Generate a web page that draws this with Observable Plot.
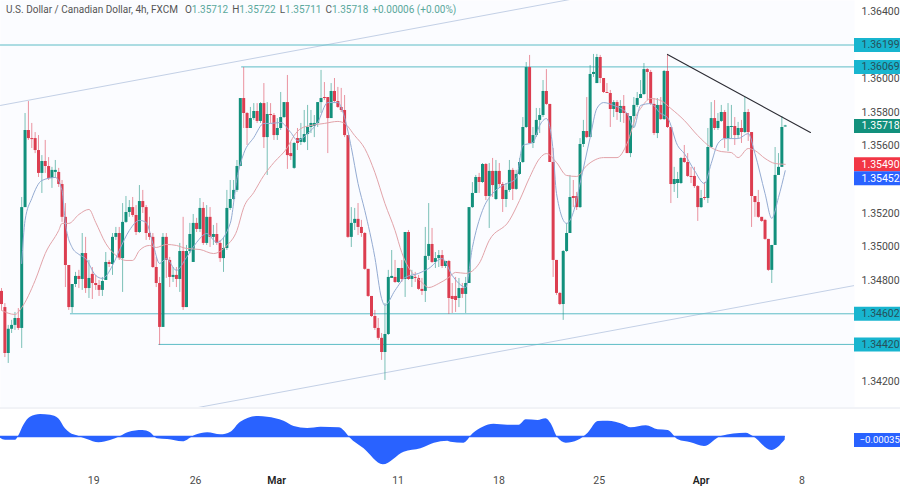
<!DOCTYPE html>
<html>
<head>
<meta charset="utf-8">
<script src="https://cdn.jsdelivr.net/npm/d3@7"></script>
<script src="https://cdn.jsdelivr.net/npm/@observablehq/plot@0.6"></script>
<style>
html,body{margin:0;padding:0;background:#fff;width:900px;height:486px;overflow:hidden}
#wrap{position:relative;width:900px;height:486px;font-family:Roboto,sans-serif}
#wrap svg{display:block;position:absolute;left:0}
#legend{position:absolute;left:6px;top:2px;font-size:10px;line-height:15px;color:#555;white-space:nowrap;z-index:2}
#legend b{font-weight:400;color:#5aa89c}
#legend span{margin-left:4px}
#legend span:first-child{margin-left:7px}
</style>
</head>
<body>
<div id="wrap"><div id="legend">U.S. Dollar / Canadian Dollar, 4h, FXCM<span>O<b>1.35712</b></span><span>H<b>1.35722</b></span><span>L<b>1.35711</b></span><span>C<b>1.35718</b></span><span><b>+0.00006 (+0.00%)</b></span></div></div>
<script>
const opens=[1.34735,1.34639,1.34366,1.34510,1.34533,1.34574,1.34515,1.35233,1.35691,1.35643,
1.35643,1.35572,1.35436,1.35507,1.35477,1.35406,1.35442,1.35442,1.35370,1.35175,
1.34889,1.34639,1.34776,1.34824,1.34806,1.34960,1.34752,1.34836,1.34782,1.34770,
1.34741,1.34800,1.34907,1.34895,1.35056,1.35079,1.34930,1.35145,1.35204,1.35233,
1.35186,1.35085,1.35269,1.35233,1.35079,1.35056,1.34877,1.34782,1.34521,1.35056,
1.34919,1.34818,1.34830,1.34806,1.34972,1.34639,1.34972,1.34907,1.35139,1.35103,
1.35228,1.35020,1.35175,1.35056,1.35073,1.35020,1.34930,1.34990,1.35228,1.35281,
1.35335,1.35477,1.35881,1.35792,1.35703,1.35762,1.35804,1.35745,1.35851,1.35649,
1.35786,1.35780,1.35661,1.35703,1.35768,1.35857,1.35554,1.35466,1.35643,1.35620,
1.35620,1.35667,1.35709,1.35715,1.35733,1.35857,1.35887,1.35887,1.35762,1.35923,
1.35863,1.35828,1.35810,1.35661,1.35056,1.35139,1.35163,1.35115,1.35079,1.34866,
1.34705,1.34586,1.34515,1.34456,1.34372,1.34479,1.34812,1.34818,1.34788,1.34871,
1.34806,1.35085,1.34806,1.34818,1.34812,1.34747,1.34735,1.34943,1.35014,1.34907,
1.34930,1.34948,1.34883,1.34913,1.34705,1.34705,1.34693,1.34752,1.34717,1.34782,
1.35233,1.35317,1.35412,1.35382,1.35489,1.35299,1.35448,1.35281,1.35448,1.35370,
1.35281,1.35335,1.35454,1.35341,1.35430,1.35501,1.35709,1.36065,1.35614,1.35661,
1.35751,1.35780,1.35923,1.35846,1.35501,1.34919,1.34723,1.34657,1.34972,1.35079,
1.35299,1.35299,1.35233,1.35608,1.35685,1.35649,1.36024,1.35970,1.36125,1.36000,
1.35917,1.35911,1.35816,1.35857,1.35792,1.35834,1.35792,1.35554,1.35774,1.35840,
1.35881,1.35905,1.36053,1.36036,1.35846,1.35673,1.35840,1.35756,1.36042,1.35709,
1.35370,1.35376,1.35376,1.35525,1.35501,1.35418,1.35418,1.35358,1.35233,1.35293,
1.35287,1.35590,1.35762,1.35703,1.35745,1.35798,1.35643,1.35709,1.35715,1.35661,
1.35703,1.35679,1.35798,1.35679,1.35299,1.35263,1.35175,1.35157,1.35044,1.34860,
1.35008,1.35424,1.35472,1.35712];
const closes=[1.34657,1.34366,1.34510,1.34533,1.34574,1.34515,1.35233,1.35691,1.35643,1.35637,
1.35572,1.35436,1.35507,1.35477,1.35406,1.35454,1.35454,1.35370,1.35175,1.34889,
1.34639,1.34776,1.34824,1.34806,1.34960,1.34752,1.34812,1.34782,1.34770,1.34741,
1.34794,1.34907,1.34895,1.35056,1.35079,1.34930,1.35145,1.35204,1.35233,1.35186,
1.35085,1.35269,1.35233,1.35079,1.35056,1.34877,1.34782,1.34521,1.35056,1.34919,
1.34818,1.34830,1.34806,1.34972,1.34639,1.34972,1.35073,1.35139,1.35103,1.35228,
1.35020,1.35175,1.35056,1.35073,1.35020,1.34930,1.34990,1.35228,1.35281,1.35335,
1.35477,1.35881,1.35792,1.35703,1.35762,1.35804,1.35745,1.35851,1.35649,1.35786,
1.35780,1.35661,1.35703,1.35768,1.35857,1.35542,1.35536,1.35614,1.35614,1.35643,
1.35667,1.35709,1.35733,1.35733,1.35857,1.35881,1.35881,1.35762,1.35923,1.35863,
1.35828,1.35810,1.35661,1.35056,1.35139,1.35163,1.35115,1.35079,1.34866,1.34705,
1.34586,1.34515,1.34456,1.34372,1.34479,1.34818,1.34824,1.34788,1.34871,1.34806,
1.35085,1.34806,1.34824,1.34812,1.34747,1.34735,1.34943,1.35014,1.34907,1.34930,
1.34948,1.34883,1.34913,1.34693,1.34687,1.34681,1.34752,1.34717,1.34782,1.35233,
1.35317,1.35412,1.35382,1.35489,1.35299,1.35448,1.35364,1.35448,1.35370,1.35281,
1.35335,1.35454,1.35341,1.35430,1.35501,1.35709,1.36065,1.35614,1.35661,1.35751,
1.35780,1.35923,1.35846,1.35501,1.34919,1.34723,1.34657,1.34972,1.35079,1.35293,
1.35287,1.35233,1.35608,1.35685,1.35649,1.36024,1.36036,1.36125,1.36000,1.35917,
1.35911,1.35816,1.35857,1.35798,1.35834,1.35792,1.35554,1.35774,1.35840,1.35881,
1.35905,1.36053,1.36036,1.35846,1.35673,1.35840,1.35756,1.36042,1.35709,1.35370,
1.35400,1.35400,1.35525,1.35501,1.35418,1.35412,1.35358,1.35233,1.35287,1.35287,
1.35590,1.35762,1.35703,1.35745,1.35798,1.35643,1.35715,1.35715,1.35661,1.35703,
1.35679,1.35798,1.35679,1.35299,1.35263,1.35175,1.35151,1.35044,1.34860,1.35008,
1.35424,1.35472,1.35709,1.35718];
const highs=[1.34752,1.34663,1.34533,1.34563,1.34610,1.34633,1.35293,1.35792,1.35863,1.35733,
1.35679,1.35661,1.35542,1.35632,1.35530,1.35472,1.35513,1.35466,1.35394,1.35257,
1.34889,1.34776,1.34848,1.34860,1.35079,1.35056,1.34919,1.34877,1.34830,1.34800,
1.34818,1.34966,1.34919,1.35079,1.35115,1.35115,1.35257,1.35299,1.35275,1.35293,
1.35245,1.35364,1.35335,1.35245,1.35175,1.35079,1.34937,1.34818,1.35079,1.35079,
1.34937,1.34877,1.34877,1.35020,1.35175,1.35008,1.35139,1.35192,1.35169,1.35287,
1.35263,1.35245,1.35233,1.35127,1.35139,1.35038,1.35056,1.35335,1.35394,1.35394,
1.35513,1.35881,1.36065,1.35798,1.35828,1.35851,1.35851,1.35857,1.35970,1.35857,
1.35851,1.35792,1.35762,1.35917,1.35857,1.36018,1.35620,1.35620,1.35703,1.35733,
1.35810,1.35840,1.35810,1.35780,1.35857,1.36048,1.35976,1.35887,1.35970,1.36000,
1.35947,1.35941,1.35899,1.35661,1.35233,1.35228,1.35257,1.35157,1.35085,1.34866,
1.34705,1.34622,1.34574,1.34485,1.34663,1.34860,1.34978,1.34919,1.34871,1.34919,
1.35085,1.35097,1.34860,1.34848,1.34830,1.34812,1.35115,1.35257,1.35109,1.34966,
1.34978,1.34978,1.34913,1.34919,1.34782,1.34818,1.34812,1.34782,1.34818,1.35233,
1.35382,1.35424,1.35436,1.35495,1.35495,1.35495,1.35525,1.35513,1.35495,1.35382,
1.35376,1.35513,1.35466,1.35454,1.35525,1.35768,1.36095,1.36137,1.35709,1.35822,
1.35822,1.35988,1.36053,1.35846,1.35584,1.34919,1.34729,1.34978,1.35139,1.35424,
1.35394,1.35323,1.35643,1.35751,1.35887,1.36077,1.36143,1.36143,1.36137,1.36000,
1.35970,1.35929,1.35869,1.35869,1.35869,1.35899,1.35792,1.35774,1.35887,1.35917,
1.35988,1.36089,1.36059,1.36048,1.35881,1.35881,1.35887,1.36048,1.36143,1.35709,
1.35472,1.35442,1.35530,1.35602,1.35554,1.35472,1.35472,1.35364,1.35335,1.35382,
1.35703,1.35857,1.35869,1.35792,1.35840,1.35810,1.35851,1.35840,1.35768,1.35739,
1.35751,1.35887,1.35816,1.35679,1.35299,1.35335,1.35175,1.35163,1.35044,1.35008,
1.35590,1.35554,1.35774,1.35722];
const lows=[1.34622,1.34342,1.34307,1.34485,1.34503,1.34503,1.34396,1.35233,1.35632,1.35584,
1.35554,1.35412,1.35317,1.35436,1.35394,1.35347,1.35406,1.35353,1.35145,1.34758,
1.34622,1.34604,1.34758,1.34752,1.34741,1.34723,1.34693,1.34687,1.34741,1.34705,
1.34705,1.34800,1.34877,1.34830,1.35038,1.34919,1.34729,1.35139,1.35175,1.35175,
1.35067,1.35079,1.35198,1.35038,1.35038,1.34871,1.34758,1.34414,1.34521,1.34812,
1.34758,1.34788,1.34758,1.34729,1.34622,1.34639,1.34960,1.34907,1.35085,1.35085,
1.35008,1.35008,1.34996,1.35008,1.35008,1.34907,1.34848,1.34978,1.35216,1.35275,
1.35323,1.35477,1.35703,1.35602,1.35703,1.35751,1.35733,1.35733,1.35584,1.35424,
1.35733,1.35632,1.35632,1.35691,1.35762,1.35460,1.35513,1.35460,1.35572,1.35602,
1.35614,1.35572,1.35673,1.35649,1.35709,1.35792,1.35869,1.35554,1.35762,1.35857,
1.35822,1.35798,1.35649,1.35050,1.34996,1.35097,1.35067,1.35056,1.34860,1.34699,
1.34580,1.34503,1.34444,1.34325,1.34206,1.34473,1.34812,1.34782,1.34782,1.34788,
1.34699,1.34800,1.34758,1.34788,1.34741,1.34711,1.34669,1.34919,1.34901,1.34871,
1.34877,1.34871,1.34871,1.34598,1.34604,1.34610,1.34639,1.34693,1.34604,1.34782,
1.35228,1.35317,1.35317,1.35376,1.35275,1.35109,1.35293,1.35275,1.35353,1.35204,
1.35233,1.35323,1.35275,1.35335,1.35424,1.35495,1.35703,1.35614,1.35584,1.35649,
1.35673,1.35768,1.35840,1.35501,1.34818,1.34711,1.34651,1.34563,1.34966,1.35079,
1.35233,1.35216,1.35228,1.35590,1.35643,1.35649,1.36006,1.35970,1.35970,1.35911,
1.35911,1.35709,1.35768,1.35751,1.35739,1.35733,1.35554,1.35530,1.35703,1.35828,
1.35881,1.35899,1.35869,1.35840,1.35661,1.35643,1.35751,1.35751,1.35703,1.35257,
1.35323,1.35287,1.35370,1.35495,1.35412,1.35376,1.35347,1.35151,1.35228,1.35275,
1.35257,1.35584,1.35691,1.35691,1.35739,1.35584,1.35566,1.35643,1.35602,1.35643,
1.35614,1.35673,1.35626,1.35115,1.35175,1.35169,1.35145,1.35038,1.34854,1.34782,
1.35008,1.35424,1.35472,1.35711];

const slowBars=[0,4,6,10,13,17,18,20,23,26,28,31,34,37,39,41,44,46,49,52,55,59,63,67,70,72,75,78,81,85,87,89,92,96,100,102,105,108,111,114,117,119,125,127,130,133,135,138,142,145,151,154,157,160,162,165,168,171,174,179,183,186,189,190,193,196,199,203,207,211,214,217,219,222,224,227,230,233];
const slowValues=[1.34622,1.34598,1.34639,1.34800,1.34960,1.35097,1.35139,1.35139,1.35192,1.35222,1.35145,1.35020,1.34949,1.34919,1.34919,1.34978,1.35008,1.34996,1.35014,1.35008,1.34990,1.34984,1.34960,1.35008,1.35097,1.35233,1.35323,1.35424,1.35501,1.35590,1.35661,1.35703,1.35721,1.35733,1.35745,1.35733,1.35661,1.35584,1.35442,1.35257,1.35097,1.34966,1.34788,1.34758,1.34782,1.34818,1.34848,1.34842,1.34901,1.35038,1.35157,1.35275,1.35412,1.35525,1.35554,1.35501,1.35424,1.35418,1.35483,1.35530,1.35530,1.35614,1.35792,1.35822,1.35881,1.35869,1.35822,1.35751,1.35661,1.35590,1.35566,1.35560,1.35530,1.35584,1.35572,1.35525,1.35495,1.35490];
const fastBars=[6,7,9,12,16,18,19,21,23,25,28,30,33,35,38,41,43,45,47,49,52,55,58,61,64,68,70,72,75,78,80,83,86,88,91,94,97,100,102,104,106,108,111,113,114,117,120,124,127,131,134,136,138,140,143,146,149,153,155,158,160,162,164,165,168,170,172,175,177,179,182,186,188,190,193,196,198,201,203,206,209,211,213,215,219,222,224,227,229,231,233];
const fastValues=[1.34901,1.35157,1.35287,1.35394,1.35412,1.35335,1.35139,1.34996,1.34955,1.34930,1.34830,1.34812,1.34889,1.34978,1.35097,1.35157,1.35145,1.35020,1.34901,1.34930,1.34860,1.34937,1.35026,1.35079,1.35026,1.35139,1.35406,1.35554,1.35649,1.35733,1.35733,1.35739,1.35679,1.35632,1.35673,1.35739,1.35857,1.35857,1.35768,1.35590,1.35376,1.35216,1.34937,1.34693,1.34652,1.34741,1.34818,1.34842,1.34871,1.34930,1.34830,1.34782,1.34758,1.34996,1.35216,1.35317,1.35364,1.35406,1.35602,1.35620,1.35721,1.35762,1.35572,1.35317,1.35139,1.35204,1.35376,1.35649,1.35822,1.35857,1.35840,1.35792,1.35709,1.35840,1.35851,1.35792,1.35768,1.35602,1.35554,1.35454,1.35376,1.35495,1.35614,1.35643,1.35643,1.35673,1.35554,1.35317,1.35169,1.35293,1.35452];

const oscBars=[-0.3,1.2,4.2,5.2,6.6,8.6,11.6,14.6,17,19,20.5,22.5,25.5,29,32.4,35.4,37.8,42,44.3,46.4,49.4,53.9,57.7,61.3,65.2,68.2,71.1,76.5,79.1,84,87,91,95,100.4,102,103.6,107.8,113.5,119.7,124.7,128.7,132.7,133.6,137.5,140.2,143.2,146.4,150.5,153.9,156,159.5,161.9,163.4,165.4,167.9,171.4,174.4,177.4,180.4,184.8,187.2,191.7,195.2,198.2,201.2,205,209,214,221.4,223.5,229,233];
const oscValues=[-0.00017,-0.00037,-0.00037,0.0001,0.0011,0.00193,0.0022,0.00213,0.00177,0.00077,0.00033,0.00007,-0.0003,-0.00063,-0.0004,0,0.0004,0.0006,0.00037,-0.00023,-0.0003,-0.00053,0.00013,0.00037,0.00017,0.00043,0.00143,0.002,0.00193,0.00153,0.001,0.0008,0.00093,0.00087,0.00053,-0.00013,-0.00123,-0.00283,-0.00157,-0.00123,-0.00067,-0.00047,-0.00057,-0.00067,0.00027,0.00093,0.00123,0.00113,0.00113,0.00167,0.0016,0.00177,0.00127,-0.00013,-0.00067,-0.0004,0.00033,0.0015,0.00153,0.0012,0.00087,0.00107,0.00067,0.0006,-0.00033,-0.00063,-0.001,0,0.00033,0,-0.0014,-0.00035];

const priceTicks=[1.364,1.36,1.358,1.356,1.352,1.35,1.348,1.342];
const levelPrices=[1.36199,1.36069,1.34602,1.3442];
const levelStarts=[-0.3,71.4,20.5,46.8];
const dayTickBars=[27.4,57.7,117.9,147.9,177.7,238];
const dayTickLabels=["19","26","11","18","25","8"];
const monthTickBars=[81.8,208];
const monthTickLabels=["Mar","Apr"];
const channelBars=[-0.3,253.6];
const channelUpper=[1.3584,1.36784];
const channelLower=[1.33827,1.3477];
const trendBars=[198,240.5];
const trendPrices=[1.36143,1.35679];
const closeTag=1.35718, slowTag=1.3549, fastTag=1.35452, oscTag=-0.00035;

const font='Roboto,sans-serif';
const xDomain=[-0.3,253.6], xRight=267.3;
const xRange=[0,854];
const bars=closes.map((c,i)=>({i,o:opens[i],c,h:highs[i],l:lows[i]}));
const up=bars.filter(d=>d.c>=d.o), down=bars.filter(d=>d.c<d.o);
const GREEN="#12907c", RED="#dc3d50", LEVEL="#5dbcc6", CHAN="#c3d0e6";
const series=(xs,ys)=>xs.map((x,k)=>({x,y:ys[k]}));
const channel=channelBars.map((x,k)=>({x,a:channelUpper[k],b:channelLower[k]}));

function tag(value,fill,color,txt,dy=0,size=10.5,dx=7){
  return [
    Plot.ruleY([value],{x1:xDomain[1],x2:xRight,stroke:fill,strokeWidth:14,dy}),
    Plot.text([value],{x:xDomain[1],y:d=>d,text:()=>txt,textAnchor:"start",dx,dy,fill:color,fontSize:size})
  ];
}
const main=Plot.plot({
  width:900,height:407,marginLeft:0,marginTop:0,marginBottom:0,marginRight:46,
  style:{background:"transparent",fontFamily:font,overflow:"hidden"},
  x:{domain:xDomain,range:xRange,axis:null},
  y:{domain:[1.340452,1.364635],range:[407,0]},
  marks:[
    Plot.frame({fill:"#fbfcff",stroke:null}),
    Plot.lineY(channel,{x:"x",y:"a",stroke:CHAN,strokeWidth:1,clip:true}),
    Plot.lineY(channel,{x:"x",y:"b",stroke:CHAN,strokeWidth:1,clip:true}),
    Plot.ruleY(levelPrices,{y:d=>d,x1:(d,k)=>levelStarts[k],x2:xDomain[1],stroke:LEVEL,strokeWidth:1}),
    Plot.ruleX(up,{x:"i",y1:"l",y2:"h",stroke:GREEN,strokeWidth:1,strokeOpacity:0.55}),
    Plot.ruleX(down,{x:"i",y1:"l",y2:"h",stroke:RED,strokeWidth:1,strokeOpacity:0.55}),
    Plot.ruleX(up,{x:"i",y1:"o",y2:"c",stroke:GREEN,strokeWidth:3}),
    Plot.ruleX(down,{x:"i",y1:"o",y2:"c",stroke:RED,strokeWidth:3}),
    Plot.lineY(series(slowBars,slowValues),{x:"x",y:"y",stroke:"#e2a3a9",strokeWidth:1,curve:"monotone-x"}),
    Plot.lineY(series(fastBars,fastValues),{x:"x",y:"y",stroke:"#94abd2",strokeWidth:1,curve:"monotone-x"}),
    Plot.lineY(series(trendBars,trendPrices),{x:"x",y:"y",stroke:"#2b2b33",strokeWidth:1.1}),
    Plot.axisY({anchor:"right",ticks:priceTicks,tickSize:0,tickPadding:7,tickFormat:d3.format(".5f"),fontSize:10.5,color:"#4a4a4a",label:null}),
    ...levelPrices.flatMap(p=>tag(p,"#18b5cf","#26505a",d3.format(".5f")(p))),
    ...tag(closeTag,GREEN,"#fff",d3.format(".5f")(closeTag)),
    ...tag(slowTag,"#f23645","#fff",d3.format(".5f")(slowTag)),
    ...tag(fastTag,"#2962ff","#fff",d3.format(".5f")(fastTag),7.5)
  ]
});
const oscPoints=series(oscBars,oscValues);
const lower=Plot.plot({
  width:900,height:79,marginLeft:0,marginTop:0,marginBottom:12,marginRight:46,
  style:{background:"transparent",fontFamily:font,overflow:"hidden"},
  x:{domain:xDomain,range:xRange,axis:null},
  y:{domain:[-0.0038,0.0029],range:[67,0],axis:null},
  marks:[
    Plot.ruleY([0.0029],{x1:xDomain[0],x2:xRight,stroke:"#e3e6ee",strokeWidth:1,dy:0.5}),
    Plot.areaY(oscPoints,{x:"x",y1:0,y2:"y",fill:"#2962ff",curve:"monotone-x"}),
    Plot.ruleY([0],{x1:oscBars[0],x2:oscBars[oscBars.length-1],stroke:"#2962ff",strokeWidth:1.4}),
    Plot.axisX({anchor:"bottom",ticks:dayTickBars,tickSize:0,tickPadding:2,fontSize:10.5,color:"#4a4a4a",label:null,tickFormat:(d)=>dayTickLabels[dayTickBars.indexOf(d)]}),
    Plot.axisX({anchor:"bottom",ticks:monthTickBars,tickSize:0,tickPadding:2,fontSize:10.5,fontWeight:600,color:"#222",label:null,tickFormat:(d)=>monthTickLabels[monthTickBars.indexOf(d)]}),
    ...tag(oscTag,"#2962ff","#fff","\u22120.00035",0,9.6,5)
  ]
});
main.style.top="0px"; lower.style.top="407px";
const wrap=document.getElementById("wrap");
wrap.prepend(main); wrap.append(lower);
</script>
</body>
</html>
